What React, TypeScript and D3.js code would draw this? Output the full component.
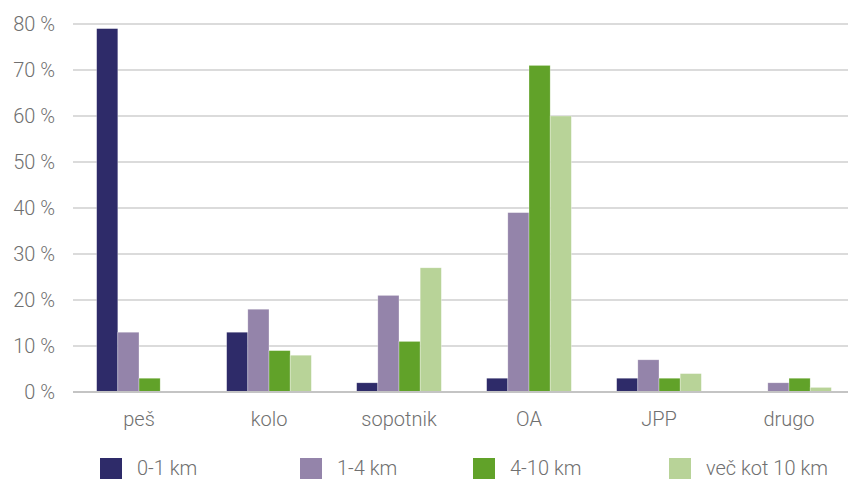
import React from "react";
import * as d3 from "d3";

const categories = ["peš", "kolo", "sopotnik", "OA", "JPP", "drugo"];
const seriesNames = ["0-1 km", "1-4 km", "4-10 km", "več kot 10 km"];
const seriesColors = ["#2e2b69", "#9484aa", "#61a229", "#b8d398"];
const s01 = [79, 13, 2, 3, 3, 0];
const s14 = [13, 18, 21, 39, 7, 2];
const s410 = [3, 9, 11, 71, 3, 3];
const s10 = [0, 8, 27, 60, 4, 1];
const yTicks = [0, 10, 20, 30, 40, 50, 60, 70, 80];

const W = 848;
const H = 479;
const left = 74;
const plotRight = 854;
const top = 24;
const bottom = 392;

export default function App() {
  const series = [s01, s14, s410, s10];
  const x = d3.scaleBand<string>().domain(categories).range([left, plotRight]).paddingInner(0).paddingOuter(0);
  const x1 = d3
    .scaleBand<number>()
    .domain([0, 1, 2, 3])
    .range([0, x.bandwidth()])
    .paddingInner(0)
    .paddingOuter(1.07);
  const y = d3.scaleLinear().domain([0, 80]).range([bottom, top]);
  const font = "'Roboto Light', Roboto, 'Noto Sans', sans-serif";
  const legendSquareX = [100, 300, 473, 669];
  const textColor = "#707070";
  return (
    <svg
      width={W}
      height={H}
      style={{ position: "absolute", left: 0, top: 0, background: "#fff" }}
      fontFamily={font}
    >
      {yTicks.map((t) => (
        <g key={t}>
          <line x1={73} x2={W} y1={y(t)} y2={y(t)} stroke="#cfcfcf" strokeWidth={1.5} />
          <text x={55} y={y(t)} dy="0.36em" textAnchor="end" fontSize={20} fontWeight={300} fill={textColor}>
            {t} %
          </text>
        </g>
      ))}
      {series.map((vals, si) =>
        vals.map((v, ci) =>
          v > 0 ? (
            <rect
              key={`${si}-${ci}`}
              x={(x(categories[ci]) as number) + (x1(si) as number)}
              y={y(v)}
              width={x1.bandwidth()}
              height={y(0) - y(v)}
              fill={seriesColors[si]}
              stroke="#ffffff"
              strokeOpacity={0.5}
              strokeWidth={0.6}
            />
          ) : null
        )
      )}
      <line x1={73} x2={W} y1={y(0)} y2={y(0)} stroke="#c4c4c4" strokeWidth={2} />
      {categories.map((c) => (
        <text
          key={c}
          x={(x(c) as number) + x.bandwidth() / 2}
          y={426}
          textAnchor="middle"
          fontSize={20}
          fontWeight={300}
          fill={textColor}
        >
          {c}
        </text>
      ))}
      {seriesNames.map((n, i) => (
        <g key={n}>
          <rect x={legendSquareX[i]} y={458} width={22} height={21} fill={seriesColors[i]} />
          <text x={legendSquareX[i] + 37} y={475} fontSize={20} fontWeight={300} fill={textColor}>
            {n}
          </text>
        </g>
      ))}
    </svg>
  );
}
